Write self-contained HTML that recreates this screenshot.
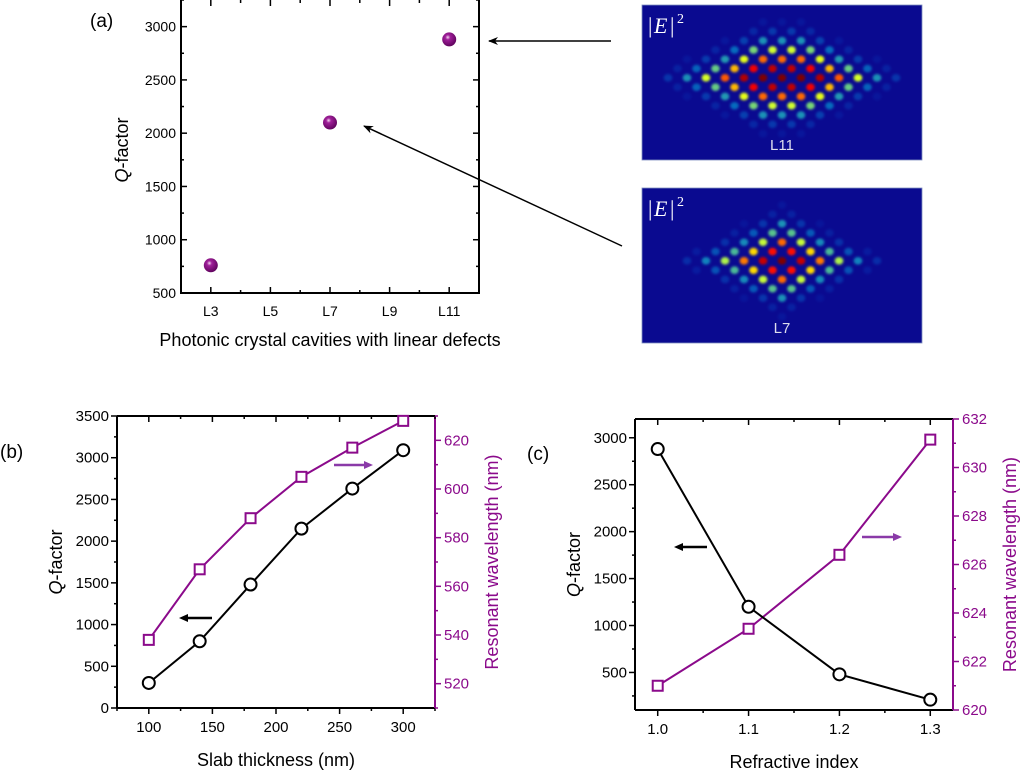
<!DOCTYPE html>
<html><head><meta charset="utf-8"><style>
body{margin:0;background:#fff;}
svg{display:block;font-family:"Liberation Sans",sans-serif;}
</style></head><body>
<svg id="fig" width="1024" height="774" viewBox="0 0 1024 774" xmlns="http://www.w3.org/2000/svg">
<defs>
<radialGradient id="ball" cx="0.4" cy="0.35" r="0.7"><stop offset="0" stop-color="#f4d8f0"/><stop offset="0.25" stop-color="#a0209a"/><stop offset="1" stop-color="#5a0058"/></radialGradient>
<marker id="ah" markerWidth="10" markerHeight="8" refX="9" refY="4" orient="auto" markerUnits="userSpaceOnUse"><path d="M0,0 L10,4 L0,8 L3,4 Z" fill="#000"/></marker>
<filter id="blur" x="-10%" y="-10%" width="120%" height="120%"><feGaussianBlur stdDeviation="1.3"/></filter>
</defs>
<g id="ga"></g>
<g id="gb"></g>
<g id="gc"></g>
<g id="gh"></g>
</svg>
<script>
const aCats=["L3","L7","L11"];
const aX=[3,7,11];
const aQ=[760,2100,2880];
const aTicks=["L3","L5","L7","L9","L11"];
const bThick=[100,140,180,220,260,300];
const bQ=[300,800,1480,2150,2630,3090];
const bLam=[538,567,588,605,617,628];
const cN=[1.0,1.1,1.2,1.3];
const cQ=[2880,1200,480,210];
const cLam=[621.0,623.35,626.4,631.15];
const NS="http://www.w3.org/2000/svg";
function el(p,t,a,txt){const e=document.createElementNS(NS,t);for(const k in a)e.setAttribute(k,a[k]);if(txt!==undefined)e.textContent=txt;p.appendChild(e);return e;}
const PUR="#8b0a8b";
function lin(d0,d1,r0,r1){return v=>r0+(v-d0)/(d1-d0)*(r1-r0);}

// ---------- Panel A
(function(){
const g=document.getElementById('ga');
const L=181,R=479,T=0,B=293;
const x=lin(2,12,L,R),y=lin(500,3250,B,T);
let r=el(g,'rect',{x:L,y:T-2,width:R-L,height:B-T+2,fill:'none',stroke:'#000','stroke-width':2});

for(let v=500;v<=3250;v+=250){const yy=y(v);const big=v%500==0;
 el(g,'line',{x1:L,x2:L+(big?6:3),y1:yy,y2:yy,stroke:'#000','stroke-width':1.5});
 el(g,'line',{x1:R,x2:R-(big?6:3),y1:yy,y2:yy,stroke:'#000','stroke-width':1.5});
 if(big){const t=el(g,'text',{x:L-5,y:yy+5,'text-anchor':'end','font-size':14},v);}}
for(let v=3;v<=11;v+=1){const xx=x(v);const big=v%2==1;
 el(g,'line',{x1:xx,x2:xx,y1:B,y2:B-(big?6:3),stroke:'#000','stroke-width':1.5});
 el(g,'line',{x1:xx,x2:xx,y1:T,y2:T+(big?6:3),stroke:'#000','stroke-width':1.5});}
aTicks.forEach((s,i)=>{const t=el(g,'text',{x:x(3+2*i),y:B+23,'text-anchor':'middle','font-size':14},s);});
let t=el(g,'text',{x:330,y:346,'text-anchor':'middle','font-size':18},'Photonic crystal cavities with linear defects');
t=el(g,'text',{x:0,y:0,transform:'translate(128,150) rotate(-90)','text-anchor':'middle','font-size':18},'');
el(t,'tspan',{'font-style':'italic'},'Q');el(t,'tspan',{},'-factor');
t=el(g,'text',{x:90,y:27,'font-size':19},'(a)');
aX.forEach((v,i)=>{const c=el(g,'circle',{cx:x(v),cy:y(aQ[i]),r:7,fill:'url(#ball)'});});
let a=el(g,'line',{x1:611,y1:41,x2:489,y2:41,stroke:'#000','stroke-width':1.5,'marker-end':'url(#ah)'});
a=el(g,'line',{x1:622,y1:246,x2:364,y2:126,stroke:'#000','stroke-width':1.5,'marker-end':'url(#ah)'});
})();

// ---------- dual-axis panel
function dual(g,box,xd,xTicks,xMinor,yl,ylT,ylM,yr,yrT,yrM,xs,q,lam,xFmt,xTitle,lbl,lblPos,arrows){
 const {L,R,T,B}=box;
 const x=lin(xd[0],xd[1],L,R),yL=lin(yl[0],yl[1],B,T),yR=lin(yr[0],yr[1],B,T);
 el(g,'line',{x1:L,y1:T,x2:L,y2:B,stroke:'#000','stroke-width':2});
 el(g,'line',{x1:L,y1:B,x2:R,y2:B,stroke:'#000','stroke-width':2});
 el(g,'line',{x1:L,y1:T,x2:R,y2:T,stroke:'#000','stroke-width':2});
 el(g,'line',{x1:R,y1:T,x2:R,y2:B,stroke:PUR,'stroke-width':2});
 xMinor.forEach(v=>{const xx=x(v);const big=xTicks.includes(v);
  el(g,'line',{x1:xx,x2:xx,y1:B,y2:B+(big?6:3),stroke:'#000','stroke-width':1.5});
  el(g,'line',{x1:xx,x2:xx,y1:T,y2:T+(big?6:3),stroke:'#000','stroke-width':1.5});});
 xTicks.forEach(v=>{const t=el(g,'text',{x:x(v),y:B+24,'text-anchor':'middle','font-size':15},xFmt(v));});
 ylM.forEach(v=>{const yy=yL(v);const big=ylT.includes(v);el(g,'line',{x1:L,x2:L-(big?6:3),y1:yy,y2:yy,stroke:'#000','stroke-width':1.5});});
 ylT.forEach(v=>{const t=el(g,'text',{x:L-8,y:yL(v)+5,'text-anchor':'end','font-size':15},v);});
 yrM.forEach(v=>{const yy=yR(v);const big=yrT.includes(v);el(g,'line',{x1:R,x2:R+(big?6:3),y1:yy,y2:yy,stroke:PUR,'stroke-width':1.5});});
 yrT.forEach(v=>{const t=el(g,'text',{x:R+9,y:yR(v)+5,'font-size':15,fill:PUR},v);});
 let t=el(g,'text',{x:(L+R)/2,y:B+58,'text-anchor':'middle','font-size':18},xTitle);
 t=el(g,'text',{x:0,y:0,transform:`translate(${L-55},${(T+B)/2}) rotate(-90)`,'text-anchor':'middle','font-size':18});
 el(t,'tspan',{'font-style':'italic'},'Q');el(t,'tspan',{},'-factor');
 t=el(g,'text',{x:0,y:0,transform:`translate(${R+63},${(T+B)/2}) rotate(-90)`,'text-anchor':'middle','font-size':18,fill:PUR},'Resonant wavelength (nm)');
 t=el(g,'text',{x:lblPos[0],y:lblPos[1],'font-size':19},lbl);
 let p=el(g,'polyline',{points:xs.map((v,i)=>x(v)+','+yR(lam[i])).join(' '),fill:'none',stroke:PUR,'stroke-width':2});
 xs.forEach((v,i)=>{const r=el(g,'rect',{x:x(v)-5,y:yR(lam[i])-5,width:10,height:10,fill:'#fff',stroke:PUR,'stroke-width':2});});
 p=el(g,'polyline',{points:xs.map((v,i)=>x(v)+','+yL(q[i])).join(' '),fill:'none',stroke:'#000','stroke-width':2});
 xs.forEach((v,i)=>{const c=el(g,'circle',{cx:x(v),cy:yL(q[i]),r:6,fill:'#fff',stroke:'#000','stroke-width':2});});
 arrows.forEach(a=>{const col=a[4];const dir=a[2]>a[0]?1:-1;
  const l=el(g,'line',{x1:a[0],y1:a[1],x2:a[2]-dir*6,y2:a[3],stroke:col,'stroke-width':2.5});
  el(g,'path',{d:`M${a[2]},${a[3]} l${-dir*9},-4 l0,8 Z`,fill:col});});
}
const rng=(a,b,s)=>{const o=[];for(let v=a;v<=b+1e-9;v+=s)o.push(Math.round(v*1000)/1000);return o;};
dual(document.getElementById('gb'),{L:117,R:435,T:416,B:708},[75,325],[100,150,200,250,300],rng(75,325,25),
 [0,3500],rng(0,3500,500),rng(0,3500,250),[510,630],rng(520,620,20),rng(510,630,10),
 bThick,bQ,bLam,v=>v,'Slab thickness (nm)','(b)',[0,458],
 [[212,618,179,618,'#000'],[334,465,373,465,'#8a3aa8']]);
dual(document.getElementById('gc'),{L:635,R:953,T:419,B:710},[0.975,1.325],[1.0,1.1,1.2,1.3],rng(1.0,1.3,0.05),
 [100,3200],rng(500,3000,500),rng(250,3000,250),[620,632],rng(620,632,2),rng(620,632,1),
 cN,cQ,cLam,v=>v.toFixed(1),'Refractive index','(c)',[527,460],
 [[707,547,674,547,'#000'],[862,537,902,537,'#8a3aa8']]);

// ---------- Field maps
function jet(v){const r=Math.min(1,Math.max(0,1.5-Math.abs(4*v-3))),g=Math.min(1,Math.max(0,1.5-Math.abs(4*v-2))),b=Math.min(1,Math.max(0,1.5-Math.abs(4*v-1)));return `rgb(${r*255|0},${g*255|0},${b*255|0})`;}
function fmap(x0,y0,w,h,core,label,name){
 const g=el(document.getElementById('gh'),'g',{});
 el(g,'rect',{x:x0,y:y0,width:w,height:h,fill:'#0a0a90',stroke:'#8090c0','stroke-width':0.8});
 const gg=el(g,'g',{filter:'url(#blur)'});
 const cx=x0+w/2,cy=y0+h*0.47;
 for(let row=-6;row<=6;row++){const yy=cy+row*9.3;const off=(row%2!==0)?9.5:0;
  for(let col=-8;col<=8;col++){const xx=cx+col*19+off;
   if(xx<x0+10||xx>x0+w-10)continue;
   const d=Math.max(0,Math.abs(xx-cx)-core)/62+Math.abs(row)/3.4;
   const v=Math.exp(-d*d);
   if(v<0.04)continue;
   el(gg,'ellipse',{cx:xx,cy:yy,rx:4.3,ry:3.8,fill:jet(0.22+v*0.78),opacity:Math.min(1,v*2.2)});
  }}
 el(g,'text',{x:x0+6,y:y0+28,'font-size':22,fill:'#fff','font-family':'Liberation Serif,serif'},'|');
 el(g,'text',{x:x0+12,y:y0+28,'font-size':22,fill:'#fff','font-style':'italic','font-family':'Liberation Serif,serif'},'E');
 el(g,'text',{x:x0+28,y:y0+28,'font-size':22,fill:'#fff','font-family':'Liberation Serif,serif'},'|');
 el(g,'text',{x:x0+35,y:y0+18,'font-size':14,fill:'#fff','font-family':'Liberation Serif,serif'},'2');
 const t=el(g,'text',{x:x0+w/2,y:y0+h-10,'font-size':15,fill:'#dde','text-anchor':'middle'},label);
}
fmap(642,5,280,155,22,'L11','field-map-L11');
fmap(642,188,280,155,0,'L7','field-map-L7');
</script>
</body></html>
